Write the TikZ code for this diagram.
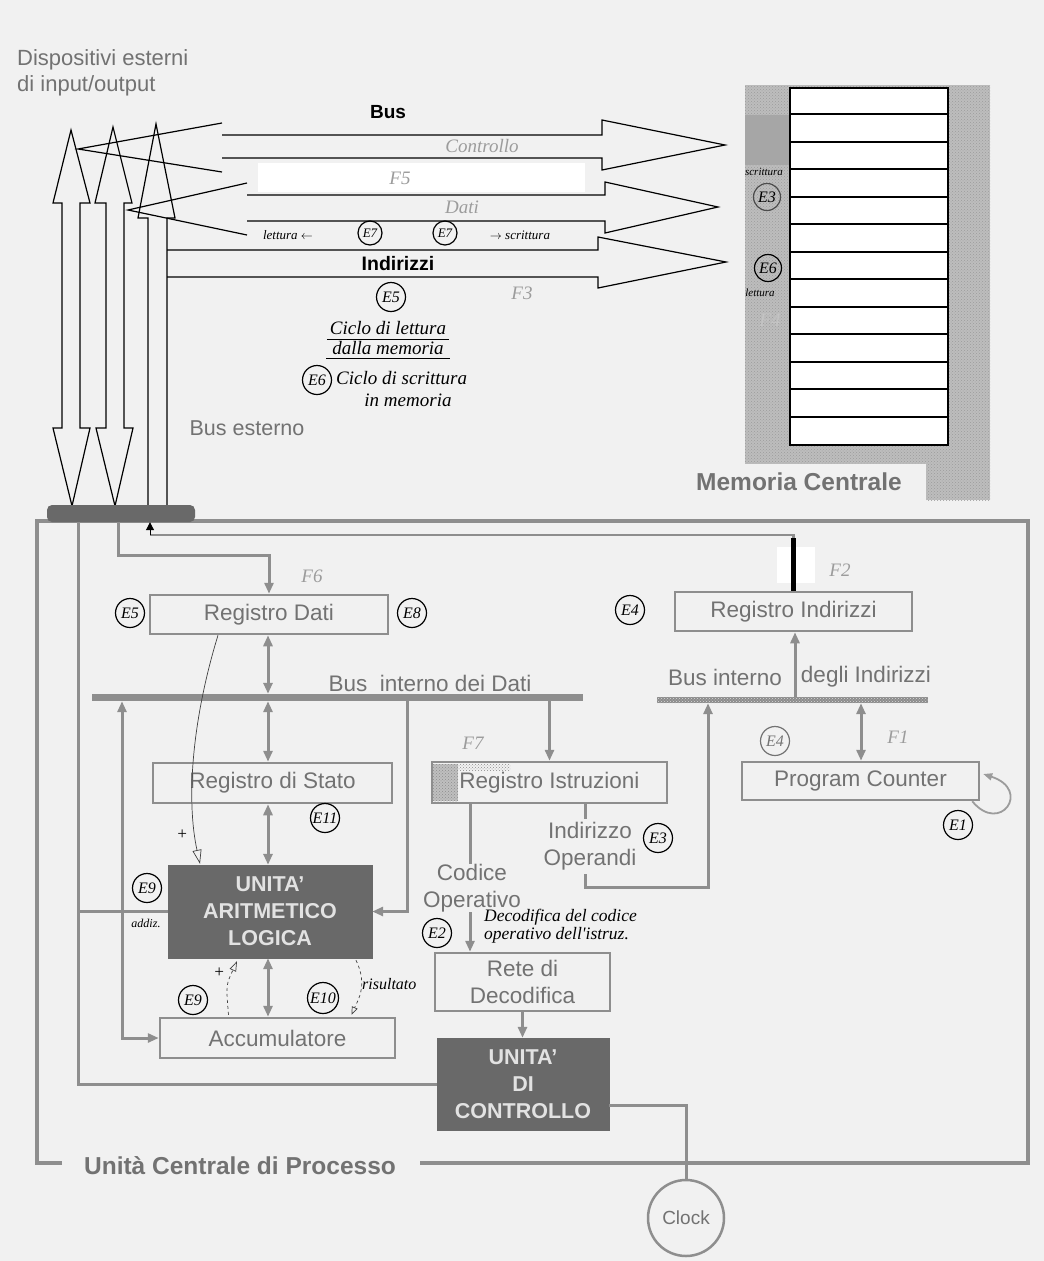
\documentclass[tikz,border=0pt]{standalone}
\usepackage{fontspec}
\setmainfont{Liberation Sans}
\newfontfamily\hand{Liberation Serif}
\usetikzlibrary{arrows.meta,patterns,calc}
\definecolor{bg}{HTML}{F1F1F1}
\definecolor{fgray}{HTML}{8E8E8E}
\definecolor{tgray}{HTML}{727272}
\definecolor{dbox}{HTML}{696969}
\definecolor{alut}{HTML}{E2E2E2}
\definecolor{memg}{HTML}{BDBDBD}
\definecolor{hgray}{HTML}{9C9C9C}
\tikzset{
  reg/.style={draw=fgray, line width=2.5pt, inner sep=0pt, text=tgray,
    font=\fontsize{22.5}{27}\selectfont, align=center},
  darkbox/.style={fill=dbox, draw=dbox, inner sep=0pt, text=alut,
    font=\bfseries\fontsize{21.5}{27}\selectfont, align=center},
  gl/.style={draw=fgray, line width=3pt},
  ga/.style={gl, -{Triangle[length=11pt,width=9pt]}},
  gda/.style={gl, {Triangle[length=11pt,width=9pt]}-{Triangle[length=11pt,width=9pt]}},
  busline/.style={draw=black, line width=1.2pt, line join=miter},
  ecirc/.style={circle, draw=black, line width=1.2pt, inner sep=0pt, minimum size=29pt,
    font=\hand\itshape\fontsize{16}{16}\selectfont},
  hw/.style={inner sep=0pt, font=\hand\itshape\fontsize{15}{18}\selectfont},
  flab/.style={inner sep=0pt, text=hgray, font=\hand\itshape\fontsize{19}{19}\selectfont},
  lbl/.style={inner sep=0pt, text=tgray, font=\fontsize{22.5}{27}\selectfont, align=center},
}
\begin{document}
\begin{tikzpicture}[x=1pt,y=-1pt]
\useasboundingbox (0,0) rectangle (1044,1261);
\fill[bg] (0,0) rectangle (1044,1261);

% ---------------- memory ----------------
\fill[memg] (745,85) rectangle (990,500);
\fill[pattern=crosshatch dots, pattern color=hgray] (745,85) rectangle (990,500);
\fill[bg] (692,464) rectangle (926,502);
\fill[black!35] (745,115) rectangle (790,165);
\node[draw=black, line width=2pt, fill=white, minimum width=158pt, minimum height=357pt, inner sep=0] (mem) at (869,266.5) {};
\foreach \i in {1,...,12} \draw[line width=2pt] ($(mem.north west)+(0,{\i*27.46})$) -- ($(mem.north east)+(0,{\i*27.46})$);
\node[inner sep=0, text=tgray, font=\bfseries\fontsize{24.5}{24}\selectfont] (memlab) at (799,482) {Memoria Centrale};

% ---------------- external devices ----------------
\node[lbl, anchor=west, align=left, font=\fontsize{22}{26}\selectfont] (iodev) at (17,73) {Dispositivi esterni\\di input/output};

% I/O arrows
\draw[busline] (71,130) -- (90,203) -- (80,203) -- (80,428) -- (90,428) -- (72,506) -- (53,428) -- (62,428) -- (62,203) -- (53,203) -- cycle;
\draw[busline] (113,127) -- (132,203) -- (124,203) -- (124,428) -- (133,428) -- (115,506) -- (96,428) -- (106,428) -- (106,203) -- (95,203) -- cycle;
\draw[busline] (167,506) -- (167,218) -- (175,218) -- (156,124) -- (138,218) -- (148,218) -- (148,506);

% control bus
\draw[busline] (222,123) -- (78,149) -- (222,172);
\draw[busline] (222,135) -- (602,135) -- (602,120) -- (725,145) -- (602,170) -- (602,158) -- (222,158);
% data bus
\draw[busline] (247,183) -- (128,210) -- (247,235);
\draw[busline] (247,195) -- (605,195) -- (605,182) -- (718,207) -- (605,233) -- (605,221) -- (247,221);
% address bus
\draw[busline] (167,250) -- (598,250) -- (598,237) -- (726,262) -- (598,288) -- (598,277) -- (167,277);
\fill[white] (258,163) rectangle (585,192);

\node[inner sep=0, font=\bfseries\fontsize{19}{19}\selectfont] (buslab) at (388,112) {Bus};
\node[inner sep=0, font=\bfseries\fontsize{19.5}{19}\selectfont] (indlab) at (398,264) {Indirizzi};
\node[flab] (ctrl) at (482,146) {Controllo};
\node[flab] (f5) at (400,178) {F5};
\node[flab] (dati) at (462,207) {Dati};
\node[hw, font=\hand\itshape\fontsize{13}{13}\selectfont] (lett) at (288,235) {lettura $\leftarrow$};
\node[ecirc, minimum size=24pt, font=\hand\itshape\fontsize{13}{13}\selectfont] (e7a) at (370,233) {E7};
\node[ecirc, minimum size=24pt, font=\hand\itshape\fontsize{13}{13}\selectfont] (e7b) at (445,233) {E7};
\node[hw, font=\hand\itshape\fontsize{13}{13}\selectfont] (scr) at (520,235) {$\rightarrow$ scrittura};
\node[hw, font=\hand\itshape\fontsize{11}{11}\selectfont] (mscr) at (764,172) {scrittura};
\node[ecirc, minimum size=27pt, draw=black!70] (e3m) at (767,197) {E3};
\node[ecirc, minimum size=27pt] (e6m) at (768,268) {E6};
\node[hw, font=\hand\itshape\fontsize{11}{11}\selectfont] (mlet) at (760,293) {lettura};
\node[flab, text=hgray!60] (f4) at (770,320) {F4};
\node[ecirc] (e5t) at (391,297) {E5};
\node[flab] (f3) at (522,293) {F3};
\node[hw, font=\hand\itshape\fontsize{19}{19}\selectfont] (cl1) at (388,328) {Ciclo di lettura};
\node[hw, font=\hand\itshape\fontsize{19}{19}\selectfont] (cl2) at (388,348) {dalla memoria};
\draw[line width=0.8pt] ($(cl1.south west)+(-3,4)$) -- ($(cl1.south east)+(3,4)$);
\draw[line width=0.8pt] ($(cl2.south west)+(-6,4)$) -- ($(cl2.south east)+(6,4)$);
\node[ecirc] (e6t) at (317,380) {E6};
\node[hw, font=\hand\itshape\fontsize{19}{19}\selectfont, anchor=west] (cs1) at (336,378) {Ciclo di scrittura};
\node[hw, font=\hand\itshape\fontsize{19}{19}\selectfont] (cs2) at (408,400) {in memoria};
\node[lbl, font=\fontsize{21.5}{21}\selectfont] (busest) at (247,428) {Bus esterno};

% ---------------- CPU frame ----------------
\draw[fgray, line width=3.5pt] (62,1163) -| (37,521) -- (1028,521) |- (420,1163);
\node[inner sep=0, text=tgray, font=\bfseries\fontsize{24.5}{24}\selectfont] (cpulab) at (240,1166) {Unità Centrale di Processo};
\node[fill=dbox, rounded corners=5pt, minimum width=148pt, minimum height=17pt, inner sep=0] (conn) at (121,513.5) {};

% ---------------- buses ----------------
\node[fill=fgray, minimum width=491pt, minimum height=7pt, inner sep=0] (dbus) at (337.5,697.5) {};
\node[preaction={fill=black!45}, pattern=crosshatch dots, pattern color=black!15, minimum width=271pt, minimum height=6pt, inner sep=0] (abus) at (792.5,700) {};
\node[lbl] (dbuslab) at (430,683) {Bus\ \ interno dei Dati};
\node[lbl] (abuslab1) at (725,677) {Bus interno};
\node[lbl] (abuslab2) at (866,677) {degli Indirizzi};

% ---------------- registers ----------------
\fill[black!25] (433,764) rectangle (458,801);
\fill[pattern=crosshatch dots, pattern color=black!45] (433,764) rectangle (458,801);
\fill[pattern=crosshatch dots, pattern color=black!45] (458,764) rectangle (510,770);
\node[reg, minimum width=238pt, minimum height=39pt] (rd) at (269,614.5) {Registro Dati};
\node[reg, minimum width=239pt, minimum height=40pt] (rs) at (272.5,783) {Registro di Stato};
\node[darkbox, minimum width=204pt, minimum height=93pt] (alu) at (270,911.5) {UNITA'\\ARITMETICO\\LOGICA};
\node[reg, minimum width=235pt, minimum height=40pt] (acc) at (277.5,1038) {Accumulatore};
\node[reg, minimum width=235pt, minimum height=41pt] (ri) at (549.5,782.5) {Registro Istruzioni};
\node[reg, minimum width=237pt, minimum height=39pt] (rind) at (793.5,611.5) {Registro Indirizzi};
\node[reg, minimum width=237pt, minimum height=38pt] (pc) at (860.5,781) {Program Counter};
\node[reg, minimum width=175pt, minimum height=58pt] (rete) at (522.5,982) {Rete di\\Decodifica};
\node[darkbox, minimum width=172pt, minimum height=92pt] (uc) at (523,1084) {UNITA'\\DI\\CONTROLLO};
\node[circle, draw=fgray, line width=2.5pt, minimum size=76pt, inner sep=0pt, text=tgray, font=\fontsize{19}{19}\selectfont] (clk) at (686,1218) {Clock};
\node[lbl] (co) at (472,888) {Codice\\Operativo};
\node[lbl] (iop) at (590,846) {Indirizzo\\Operandi};

% ---------------- connectors ----------------
\coordinate (x268) at (268,0);
\draw[gda] (x268 |- rd.south) -- (x268 |- dbus.north);
\draw[gda] (x268 |- dbus.south) -- (x268 |- rs.north);
\draw[gda] (x268 |- rs.south) -- (x268 |- alu.north);
\draw[gda] (x268 |- alu.south) -- (x268 |- acc.north);
\coordinate (x122) at (122,0);
\draw[gda] (x122 |- dbus.south) |- (acc.west);
\coordinate (x407) at (407,0);
\draw[ga] (x407 |- dbus.south) |- (alu.east);
\draw[ga] (ri.north |- dbus.south) -- (ri.north);
\coordinate (x470) at (470,0);
\draw[gl] (x470 |- ri.south) -- (x470 |- co.north);
\draw[ga] (x470 |- co.south) -- (x470 |- rete.north);
\coordinate (x585) at (585,0);
\coordinate (ab) at (708,887);
\draw[gl] (x585 |- ri.south) -- ($(x585 |- iop.north)+(0,-3)$);
\draw[ga] ($(x585 |- iop.south)+(0,4)$) |- (ab) -- (ab |- abus.south);
\draw[ga] (rete.south) -- (rete.south |- uc.north);
\coordinate (x78) at (78,0);
\draw[gl] (x78 |- conn.south) |- (uc.west);
\draw[gl] (x78 |- alu.west) -- (alu.west);
\coordinate (x118) at (118,0);
\coordinate (rdtop) at (269,555);
\draw[ga] (x118 |- conn.south) |- (rdtop) -- (rd.north);
\draw[gl] ($(uc.south east)+(0,-25)$) -| (clk.north);
\coordinate (tl) at (150,535);
\draw[gl, line width=2.5pt] (rind.north) |- (tl);
\draw[black, line width=1pt, -{Triangle[length=8pt,width=8pt]}] (tl) -- (tl |- conn.south);
\fill[white] (777,547) rectangle (815,583);
\draw[black, line width=5pt] (793.5,538) -- (rind.north);
\coordinate (x795) at (795,0);
\draw[ga] (x795 |- abus.north) -- (x795 |- rind.south);
\coordinate (x861) at (861,0);
\draw[gda] (x861 |- abus.south) -- (x861 |- pc.north);
\draw[draw=hgray, line width=1.8pt, -{Triangle[length=9pt,width=7pt]}] ($(pc.south east)+(-8,0)$) .. controls (1000,835) and (1032,790) .. ($(pc.east)+(3,-7)$);

% annotations
\draw[black!75, line width=0.7pt, -{Triangle[open,length=14pt,width=9pt]}] ($(rd.south)+(-51,0)$) .. controls (192,720) and (186,800) .. ($(alu.north)+(-70,-1)$);
\draw[black!75, dashed, line width=0.7pt, -{Triangle[open,length=10pt,width=7pt]}] ($(acc.north)+(-49,-2)$) .. controls (226,985) .. ($(alu.south)+(-33,3)$);
\draw[black!75, dashed, line width=0.7pt, -{Triangle[open,length=8pt,width=6pt]}] ($(alu.south)+(86,2)$) .. controls (368,985) and (358,1000) .. ($(acc.north)+(74,-2)$);

\node[flab] (f6) at (312,576) {F6};
\node[ecirc] (e5) at (130,613) {E5};
\node[ecirc] (e8) at (412,613) {E8};
\node[ecirc] (e4a) at (630,610) {E4};
\node[flab] (f2) at (840,570) {F2};
\node[flab] (f7) at (473,743) {F7};
\node[ecirc, draw=black!55, text=black!55] (e4b) at (775,741) {E4};
\node[flab] (f1) at (898,737) {F1};
\node[ecirc] (e1) at (958,825) {E1};
\node[ecirc] (e11) at (325,818) {E11};
\node[hw, font=\hand\itshape\fontsize{17}{17}\selectfont] (plus1) at (182,835) {+};
\node[ecirc] (e9a) at (147,888) {E9};
\node[hw, font=\hand\itshape\fontsize{12}{12}\selectfont] (addiz) at (146,923) {addiz.};
\node[hw, font=\hand\itshape\fontsize{17}{17}\selectfont] (plus2) at (219,973) {+};
\node[ecirc] (e9b) at (193,1000) {E9};
\node[ecirc, minimum size=31pt] (e10) at (323,998) {E10};
\node[hw, font=\hand\itshape\fontsize{16}{16}\selectfont, anchor=west] (ris) at (362,984) {risultato};
\node[ecirc] (e3) at (658,838) {E3};
\node[ecirc] (e2) at (437,933) {E2};
\node[hw, font=\hand\itshape\fontsize{17.5}{18}\selectfont, anchor=west, align=left] (dec) at (484,926) {Decodifica del codice\\operativo dell'istruz.};

\end{tikzpicture}
\end{document}
